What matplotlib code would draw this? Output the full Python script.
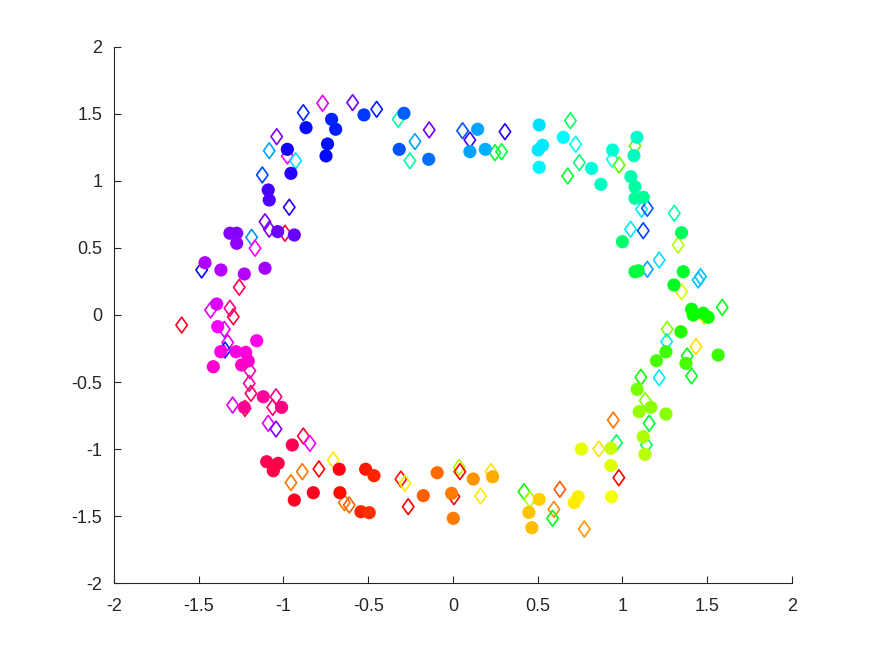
import numpy as np
import matplotlib
matplotlib.use('Agg')
import matplotlib.pyplot as plt
from matplotlib.path import Path

plt.rcParams['font.family'] = ['Liberation Sans', 'DejaVu Sans']
plt.rcParams['axes.unicode_minus'] = False

# filled circles (observed points)
circ_x = [0.146, 0.100, 0.191, -0.143, 0.509, 0.529, 0.503, 0.509, 0.651, 0.818,
          0.873, 0.942, 1.086, 1.068, 1.050, 1.074, 1.074, 1.123, 1.000, 1.349,
          1.074, 1.093, 1.359, 1.304, 1.408, 1.418, 1.477, 1.506, 1.345,
          -0.289, -0.525, -0.716, -0.692, -0.867, -0.740, -0.749, -0.977, -0.956, -0.317,
          -1.090, -1.084, -1.316, -1.276, -1.276, -1.034, -0.936, -1.463, -1.369, -1.231,
          -1.109, -1.394, -1.388,
          -1.158, -1.370, -1.280, -1.223, -1.208, -1.247, -1.414, -1.119, -1.011, -1.231,
          -0.948, -1.099, -1.031, -1.060, -0.936, -0.824, -0.671, -0.667, -0.515, -0.466,
          -0.543, -0.494, -0.175, -0.093, -0.008, 0.002, 0.120,
          0.234, 0.509, 0.448, 0.466, 0.739, 0.716, 0.759, 0.932, 0.932, 0.936,
          1.123, 1.133, 1.099, 1.168, 1.257, 1.087, 1.201, 1.257, 1.375, 1.565]
circ_y = [1.386, 1.219, 1.236, 1.162, 1.418, 1.266, 1.231, 1.102, 1.326, 1.094,
          0.975, 1.231, 1.326, 1.189, 1.032, 0.957, 0.871, 0.878, 0.547, 0.614,
          0.323, 0.330, 0.323, 0.224, 0.043, 0.000, 0.013, -0.017, -0.125,
          1.505, 1.493, 1.460, 1.386, 1.398, 1.276, 1.187, 1.236, 1.057, 1.236,
          0.933, 0.858, 0.610, 0.610, 0.535, 0.622, 0.597, 0.390, 0.336, 0.306,
          0.349, 0.082, -0.087,
          -0.192, -0.274, -0.274, -0.279, -0.343, -0.373, -0.386, -0.610, -0.689, -0.689,
          -0.970, -1.095, -1.107, -1.162, -1.381, -1.326, -1.151, -1.326, -1.151, -1.199,
          -1.468, -1.475, -1.348, -1.177, -1.331, -1.517, -1.224,
          -1.207, -1.376, -1.473, -1.587, -1.356, -1.400, -1.000, -0.995, -1.124, -1.356,
          -0.908, -1.040, -0.721, -0.689, -0.739, -0.555, -0.341, -0.274, -0.361, -0.299]

# open diamonds with their own hue
dia_x = [-0.140, 0.057, 0.100, 0.307, 0.248, 0.287, 0.693, 0.724, 0.746, 0.677,
         0.940, 0.981, 1.074, 1.113, 1.147, 1.048, 1.123, 1.306, 1.329, 1.217,
         1.147, 1.447, 1.461, 1.349, 1.589, 1.264, -0.883, -0.769, -0.592, -0.450,
         -0.323, -0.224, -0.254, -1.040, -1.084, -0.977, -0.928, -1.125, -0.966, -1.109,
         -1.084, -0.991, -1.188, -1.168, -1.483, -1.261, -1.430, -1.316, -1.296, -1.601,
         -1.349, -1.329, -1.345, -1.198, -1.202, -1.192, -1.300, -1.227, -1.044, -1.064,
         -1.090, -1.044, -0.883, -0.844, -0.706, -0.889, -0.956, -0.791, -0.641, -0.612,
         -0.307, -0.283, -0.264, 0.037, 0.041, 0.006, 0.163, 0.224, 0.419, 0.454,
         0.631, 0.596, 0.588, 0.775, 0.861, 0.965, 0.946, 0.979, 1.142, 1.158,
         1.135, 1.109, 1.217, 1.261, 1.382, 1.408, 1.434, 1.482]
dia_y = [1.381, 1.375, 1.306, 1.368, 1.211, 1.219, 1.450, 1.274, 1.137, 1.037,
         1.162, 1.119, 1.261, 0.789, 0.796, 0.640, 0.629, 0.759, 0.522, 0.410,
         0.341, 0.261, 0.286, 0.174, 0.057, -0.107, 1.510, 1.580, 1.585, 1.535,
         1.460, 1.294, 1.151, 1.331, 1.226, 1.187, 1.151, 1.045, 0.804, 0.696,
         0.640, 0.610, 0.580, 0.498, 0.336, 0.207, 0.037, 0.050, -0.013, -0.075,
         -0.107, -0.206, -0.261, -0.416, -0.510, -0.585, -0.672, -0.697, -0.610, -0.689,
         -0.808, -0.851, -0.903, -0.958, -1.082, -1.169, -1.251, -1.149, -1.400, -1.418,
         -1.224, -1.256, -1.430, -1.137, -1.169, -1.356, -1.351, -1.169, -1.318, -1.376,
         -1.301, -1.450, -1.517, -1.597, -1.000, -0.953, -0.784, -1.214, -0.970, -0.808,
         -0.639, -0.465, -0.468, -0.199, -0.306, -0.455, -0.236, -0.010]
dia_hue = [0.75, 0.62, 0.72, 0.70, 0.36, 0.38, 0.40, 0.50, 0.42, 0.37,
           0.50, 0.28, 0.27, 0.52, 0.62, 0.52, 0.63, 0.45, 0.22, 0.53,
           0.57, 0.55, 0.55, 0.20, 0.35, 0.25, 0.65, 0.83, 0.75, 0.66,
           0.45, 0.57, 0.45, 0.76, 0.57, 0.84, 0.53, 0.63, 0.70, 0.76,
           0.76, 0.97, 0.58, 0.85, 0.67, 0.96, 0.83, 0.92, 0.97, 0.99,
           0.82, 0.83, 0.66, 0.90, 0.90, 0.95, 0.82, 0.98, 0.93, 0.94,
           0.83, 0.76, 0.98, 0.84, 0.16, 0.08, 0.08, 0.00, 0.08, 0.07,
           0.01, 0.16, 0.00, 0.23, 0.00, 0.00, 0.16, 0.15, 0.33, 0.22,
           0.06, 0.09, 0.35, 0.10, 0.15, 0.40, 0.08, 0.00, 0.40, 0.37,
           0.25, 0.33, 0.52, 0.52, 0.36, 0.36, 0.15, 0.15]

circ_x = np.array(circ_x)
circ_y = np.array(circ_y)
# circles are coloured by their angle around the origin
circ_hue = (np.arctan2(circ_y, circ_x) / (2 * np.pi) + 1 / 3) % 1.0

diamond = Path([(0, 1), (0.72, 0), (0, -1), (-0.72, 0), (0, 1)],
               [Path.MOVETO, Path.LINETO, Path.LINETO, Path.LINETO, Path.CLOSEPOLY])

cmap = plt.get_cmap('hsv')

fig = plt.figure(figsize=(8.75, 6.57), dpi=100)
ax = fig.add_axes([0.1303, 0.1126, 0.7747, 0.8159])

ax.scatter(dia_x, dia_y, s=130, marker=diamond, facecolors='none',
           edgecolors=cmap(np.array(dia_hue)), linewidths=1.2, zorder=2)
ax.scatter(circ_x, circ_y, s=90, marker='o', c=cmap(circ_hue),
           edgecolors='none', zorder=3)

ax.set_xlim(-2, 2)
ax.set_ylim(-2, 2)
ticks = [-2, -1.5, -1, -0.5, 0, 0.5, 1, 1.5, 2]
labels = ['-2', '-1.5', '-1', '-0.5', '0', '0.5', '1', '1.5', '2']
ax.set_xticks(ticks, labels)
ax.set_yticks(ticks, labels)
ax.spines['top'].set_visible(False)
ax.spines['right'].set_visible(False)
for s in ['left', 'bottom']:
    ax.spines[s].set_color('#262626')
    ax.spines[s].set_linewidth(0.8)
ax.tick_params(direction='in', length=5, width=0.8, colors='#262626',
               labelsize=13, labelcolor='#262626')
ax.tick_params(axis='x', pad=11)
ax.tick_params(axis='y', pad=8.5)

fig.savefig('out.png', dpi=100)
